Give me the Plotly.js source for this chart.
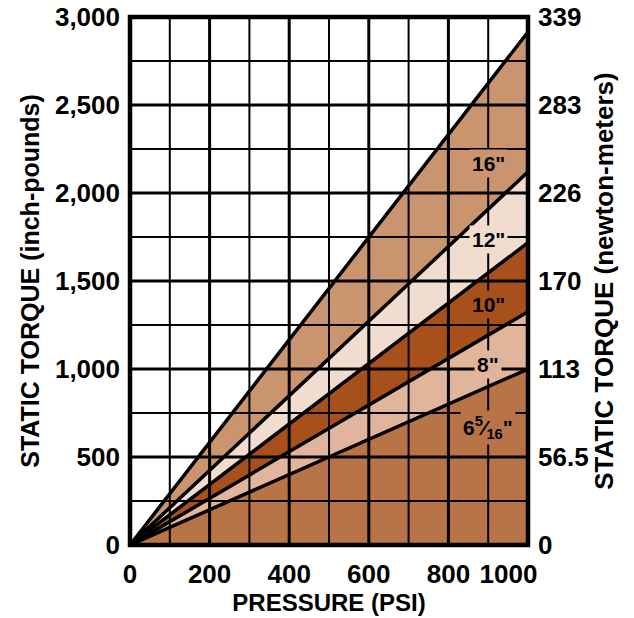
<!DOCTYPE html>
<html><head><meta charset="utf-8">
<script src="https://cdn.plot.ly/plotly-3.0.1.min.js"></script>
<style>html,body{margin:0;padding:0;background:#fff}#chart{width:634px;height:618px}</style>
</head><body><div id="chart"></div>
<script>
// Data
const pressure = [0, 1000];
const torque_6_5_16 = [0, 1000];
const torque_8 = [0, 1325];
const torque_10 = [0, 1718];
const torque_12 = [0, 2120];
const torque_16 = [0, 2915];
const sizeLabels = ['6<sup>5</sup>⁄<sub>16</sub>"', '8"', '10"', '12"', '16"'];
const labelY = [665, 1023, 1364, 1733, 2170];
const labelX = 900;
const leftTickVals = [0, 500, 1000, 1500, 2000, 2500, 3000];
const leftTickText = ['0', '500', '1,000', '1,500', '2,000', '2,500', '3,000'];
const rightTickText = ['0', '56.5', '113', '170', '226', '283', '339'];
const xTickVals = [0, 200, 400, 600, 800, 1000];
const xTickText = ['0', '200', '400', '600', '800', '1000\u2003\u2002'];
const xGrid = [100, 200, 300, 400, 500, 600, 700, 800, 900];
const yGrid = [250, 500, 750, 1000, 1250, 1500, 1750, 2000, 2250, 2500, 2750];

const fillColors = ['#b87347', '#e0b59c', '#a8501b', '#f0ddd0', '#ca946f'];
const series = [torque_6_5_16, torque_8, torque_10, torque_12, torque_16];
const FONT = 'Liberation Sans, Arial, Helvetica, sans-serif';

const traces = series.map((s, i) => ({
  x: pressure, y: s, type: 'scatter', mode: 'lines',
  line: {color: '#000', width: 3.5},
  fill: i === 0 ? 'tozeroy' : 'tonexty',
  fillcolor: fillColors[i],
  hoverinfo: 'skip', showlegend: false
}));
traces.push({x: [0], y: [0], yaxis: 'y2', mode: 'markers', marker: {opacity: 0}, hoverinfo: 'skip', showlegend: false});

const shapes = [];
xGrid.forEach(v => shapes.push({type: 'line', xref: 'x', yref: 'paper', x0: v, x1: v, y0: 0, y1: 1, layer: 'above', line: {color: '#000', width: (v % 200 === 0) ? 3 : 2}}));
yGrid.forEach(v => shapes.push({type: 'line', xref: 'paper', yref: 'y', x0: 0, x1: 1, y0: v, y1: v, layer: 'above', line: {color: '#000', width: (v % 500 === 0) ? 3 : 2}}));
shapes.push({type: 'rect', xref: 'paper', yref: 'paper', x0: 0, x1: 1, y0: 0, y1: 1, layer: 'above', line: {color: '#000', width: 4.5}});

const annotations = sizeLabels.map((t, i) => ({
  x: labelX, y: labelY[i], xref: 'x', yref: 'y', text: '<b>' + t + '</b>', showarrow: false,
  font: {family: FONT, size: 21, color: '#000'}, bgcolor: fillColors[i], borderpad: 2
}));

const tickFont = {family: FONT, size: 26, color: '#000', weight: 'bold'};

const layout = {
  width: 634, height: 618,
  margin: {l: 130, r: 106, t: 17, b: 73},
  paper_bgcolor: '#fff', plot_bgcolor: '#fff',
  showlegend: false,
  xaxis: {range: [0, 1000], tickvals: xTickVals, ticktext: xTickText, showgrid: false, zeroline: false,
    showline: false, ticks: '', tickfont: tickFont, ticklabelstandoff: 11,
    title: {text: 'PRESSURE (PSI)', font: {family: FONT, size: 24, color: '#000', weight: 'bold'}, standoff: 2}},
  yaxis: {range: [0, 3000], tickvals: leftTickVals, ticktext: leftTickText, showgrid: false, zeroline: false,
    showline: false, ticks: '', tickfont: tickFont, ticklabelstandoff: 9,
    title: {text: 'STATIC TORQUE (inch-pounds)', font: {family: FONT, size: 25, color: '#000', weight: 'bold'}, standoff: 8}},
  yaxis2: {range: [0, 3000], overlaying: 'y', side: 'right', tickvals: leftTickVals, ticktext: rightTickText,
    showgrid: false, zeroline: false, showline: false, ticks: '', tickfont: tickFont, ticklabelstandoff: 9,
    title: {text: 'STATIC TORQUE (newton-meters)', font: {family: FONT, size: 26, color: '#000', weight: 'bold'}, standoff: 1}},
  shapes: shapes,
  annotations: annotations
};
Plotly.newPlot('chart', traces, layout, {displayModeBar: false, staticPlot: true});
</script></body></html>
